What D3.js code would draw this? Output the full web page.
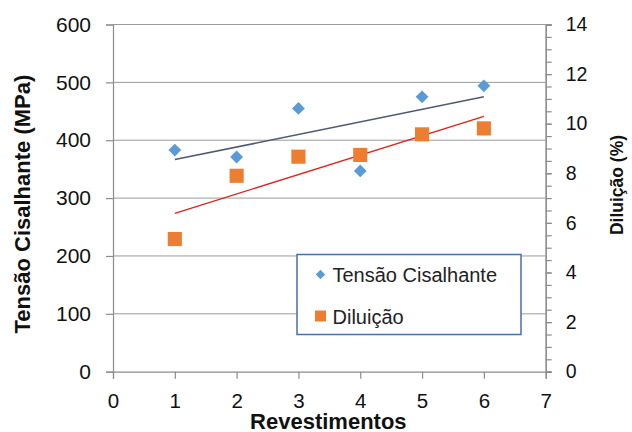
<!DOCTYPE html>
<html>
<head>
<meta charset="utf-8">
<script src="https://cdnjs.cloudflare.com/ajax/libs/d3/7.8.5/d3.min.js"></script>
<style>
  body { margin: 0; background: #fff; }
  svg { font-family: "Liberation Sans", Arial, sans-serif; }
</style>
</head>
<body>
<svg id="chart" width="632" height="432"></svg>
<script>
// data
const revestimentos = [1, 2, 3, 4, 5, 6];
const tensao = [383, 371, 455, 347, 475, 494];      // MPa, left axis
const diluicao = [5.35, 7.9, 8.67, 8.74, 9.57, 9.81]; // %, right axis

const xTicks = [0, 1, 2, 3, 4, 5, 6, 7];
const yLeftTicks = [0, 100, 200, 300, 400, 500, 600];
const yRightTicks = [0, 2, 4, 6, 8, 10, 12, 14];

const svg = d3.select("#chart");

const plot = { left: 113, right: 545.7, top: 24.5, bottom: 371.7 };

const x = d3.scaleLinear().domain([0, 7]).range([plot.left, plot.right]);
const yL = d3.scaleLinear().domain([0, 600]).range([plot.bottom, plot.top]);
const yR = d3.scaleLinear().domain([0, 14]).range([plot.bottom, plot.top]);

const axisColor = "#8c8c8c";

// horizontal gridlines
svg.append("g")
    .selectAll("line")
    .data(yLeftTicks.filter(d => d > 0))
    .join("line")
    .attr("x1", plot.left).attr("x2", plot.right)
    .attr("y1", d => yL(d)).attr("y2", d => yL(d))
    .attr("stroke", "#9a9a9a")
    .attr("stroke-width", 1);

// left axis
const gLeft = svg.append("g")
    .attr("transform", `translate(${plot.left},0)`)
    .call(d3.axisLeft(yL).tickValues(yLeftTicks).tickSize(7).tickPadding(15).tickFormat(d3.format("d")));

// bottom axis
const gBottom = svg.append("g")
    .attr("transform", `translate(0,${plot.bottom})`)
    .call(d3.axisBottom(x).tickValues(xTicks).tickSize(7).tickPadding(15).tickFormat(d3.format("d")));

// right axis with minor ticks every 0.5
const gRightMinor = svg.append("g")
    .attr("transform", `translate(${plot.right},0)`)
    .call(d3.axisRight(yR).tickValues(d3.range(0, 14.01, 0.5)).tickSize(6).tickFormat(""));

const gRight = svg.append("g")
    .attr("transform", `translate(${plot.right},0)`)
    .call(d3.axisRight(yR).tickValues(yRightTicks).tickSize(6).tickPadding(14).tickFormat(d3.format("d")));

[gLeft, gBottom, gRight, gRightMinor].forEach(g => {
    g.select(".domain").attr("stroke", axisColor).attr("stroke-width", 1.2);
    g.selectAll(".tick line").attr("stroke", axisColor).attr("stroke-width", 1.2);
    g.selectAll("text").attr("fill", "#111").attr("font-family", "Liberation Sans, Arial, sans-serif");
});
gLeft.selectAll("text").attr("font-size", 21);
gBottom.selectAll("text").attr("font-size", 20.5);
gRight.selectAll("text").attr("font-size", 19.5);

// linear trend lines (least squares from the data)
function trend(xs, ys) {
    const mx = d3.mean(xs), my = d3.mean(ys);
    const slope = d3.sum(xs, (v, i) => (v - mx) * (ys[i] - my)) / d3.sum(xs, v => (v - mx) * (v - mx));
    const b = my - slope * mx;
    const x0 = d3.min(xs), x1 = d3.max(xs);
    return [[x0, b + slope * x0], [x1, b + slope * x1]];
}

svg.append("path")
    .datum(trend(revestimentos, tensao))
    .attr("d", d3.line().x(d => x(d[0])).y(d => yL(d[1])))
    .attr("fill", "none")
    .attr("stroke", "#4d5b70")
    .attr("stroke-width", 1.6);

svg.append("path")
    .datum(trend(revestimentos, diluicao))
    .attr("d", d3.line().x(d => x(d[0])).y(d => yR(d[1])))
    .attr("fill", "none")
    .attr("stroke", "#e0201b")
    .attr("stroke-width", 1.4);

// markers
const blue = "#5b9bd5";
const orange = "#ed7d31";
const diamond = d3.symbol().type(d3.symbolDiamond2).size(105);
const square = d3.symbol().type(d3.symbolSquare).size(200);

svg.append("g")
    .selectAll("path")
    .data(revestimentos)
    .join("path")
    .attr("d", diamond)
    .attr("transform", (d, i) => `translate(${x(d)},${yL(tensao[i])})`)
    .attr("fill", blue);

svg.append("g")
    .selectAll("path")
    .data(revestimentos)
    .join("path")
    .attr("d", square)
    .attr("transform", (d, i) => `translate(${x(d)},${yR(diluicao[i])})`)
    .attr("fill", orange);

// axis titles
svg.append("text")
    .attr("transform", `translate(30,${(plot.top + plot.bottom) / 2 + 6}) rotate(-90)`)
    .attr("text-anchor", "middle")
    .attr("font-size", 22)
    .attr("font-weight", "bold")
    .attr("fill", "#111")
    .text("Tensão Cisalhante (MPa)");

svg.append("text")
    .attr("transform", `translate(623,185) rotate(-90)`)
    .attr("text-anchor", "middle")
    .attr("font-size", 17.5)
    .attr("font-weight", "bold")
    .attr("fill", "#111")
    .text("Diluição (%)");

svg.append("text")
    .attr("x", (plot.left + plot.right) / 2 - 1)
    .attr("y", 428.5)
    .attr("text-anchor", "middle")
    .attr("font-size", 22)
    .attr("font-weight", "bold")
    .attr("fill", "#111")
    .text("Revestimentos");

// legend
const legend = svg.append("g");
legend.append("rect")
    .attr("x", 297).attr("y", 254.5)
    .attr("width", 224).attr("height", 80)
    .attr("fill", "#fff")
    .attr("stroke", "#4a6ea5")
    .attr("stroke-width", 1.5);

const legendItems = [
    { label: "Tensão Cisalhante", symbol: d3.symbol().type(d3.symbolDiamond2).size(56), color: blue, y: 274.5 },
    { label: "Diluição", symbol: d3.symbol().type(d3.symbolSquare).size(121), color: orange, y: 316 }
];

const entry = legend.selectAll("g.entry")
    .data(legendItems)
    .join("g")
    .attr("class", "entry");

entry.append("path")
    .attr("d", d => d.symbol())
    .attr("transform", d => `translate(320.5,${d.y})`)
    .attr("fill", d => d.color);

entry.append("text")
    .attr("x", 332.5)
    .attr("y", d => d.y + 7.5)
    .attr("font-size", 20)
    .attr("fill", "#222")
    .text(d => d.label);
</script>
</body>
</html>
